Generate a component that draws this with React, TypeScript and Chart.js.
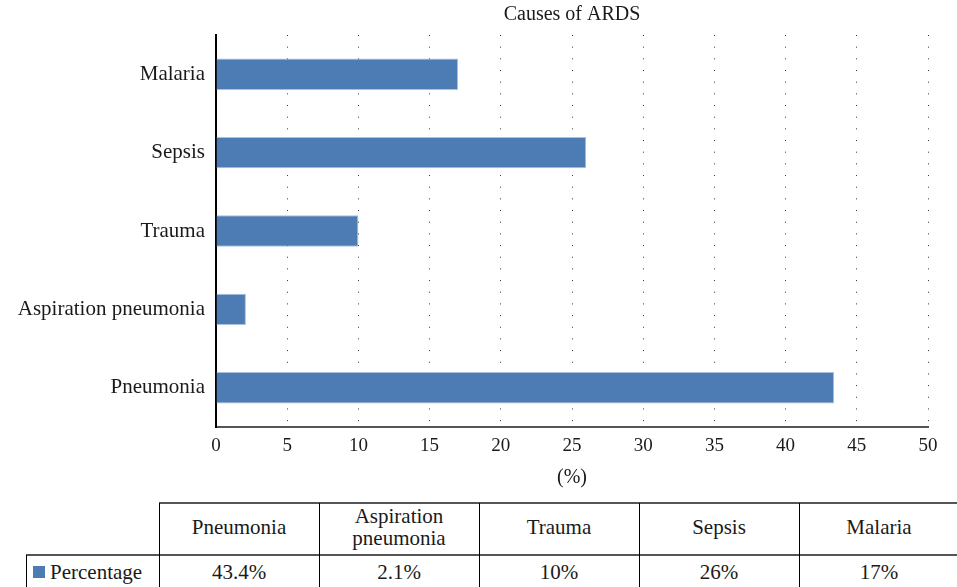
import React, { useEffect, useRef } from "react";
import { Chart, registerables } from "chart.js";

Chart.register(...registerables);

const categories: string[] = ["Pneumonia", "Aspiration pneumonia", "Trauma", "Sepsis", "Malaria"];
const headerLabels: string[][] = [["Pneumonia"], ["Aspiration", "pneumonia"], ["Trauma"], ["Sepsis"], ["Malaria"]];
const percentages: number[] = [43.4, 2.1, 10, 26, 17];
const seriesName = "Percentage";
const chartTitle = "Causes of ARDS";
const axisTitle = "(%)";

const FONT = "'Liberation Serif', 'DejaVu Serif', serif";
const BAR = "#4d7bb4";
const TEXT = "#1a1a1a";

export default function App() {
  const ref = useRef<HTMLCanvasElement | null>(null);

  useEffect(() => {
    if (!ref.current) return;
    const chart = new Chart(ref.current, {
      type: "bar",
      data: {
        labels: categories,
        datasets: [
          {
            label: seriesName,
            data: percentages,
            backgroundColor: BAR,
            borderColor: "#a9c0de",
            borderWidth: 1,
            barPercentage: 0.4,
            categoryPercentage: 1,
          },
        ],
      },
      options: {
        indexAxis: "y",
        animation: false,
        responsive: false,
        maintainAspectRatio: false,
        layout: { padding: { left: 0, right: 29, top: 0, bottom: 0 } },
        plugins: {
          legend: { display: false },
          tooltip: { enabled: false },
          title: {
            display: true,
            text: chartTitle,
            fullSize: false,
            color: TEXT,
            font: { family: FONT, size: 20, weight: "normal" },
            padding: { top: 3, bottom: 8 },
          },
        },
        scales: {
          x: {
            type: "linear",
            min: 0,
            max: 50,
            ticks: {
              stepSize: 5,
              color: TEXT,
              font: { family: FONT, size: 19 },
              padding: 8,
              maxRotation: 0,
            },
            grid: {
              display: true,
              drawTicks: false,
              color: (ctx: any) => (ctx.tick && ctx.tick.value === 0 ? "rgba(0,0,0,0)" : "#333333"),
              lineWidth: 1,
            },
            border: { display: true, color: "#555555", width: 2, dash: [1, 10.67] },
            title: {
              display: true,
              text: axisTitle,
              color: TEXT,
              font: { family: FONT, size: 20 },
              padding: { top: 0, bottom: 5 },
            },
            afterFit: (scale: any) => {
              scale.height = 68;
            },
          },
          y: {
            reverse: true,
            ticks: {
              color: TEXT,
              font: { family: FONT, size: 21 },
              padding: 11,
            },
            grid: { display: false, drawTicks: false },
            border: { display: true, color: "#000000", width: 2 },
            afterFit: (scale: any) => {
              scale.width = 216;
            },
          },
        },
      },
    } as any);
    return () => chart.destroy();
  }, []);

  const colLeft = (i: number) => 159 + i * 160;
  const lineStyle = (l: number, t: number, w: number, h: number, c: string): React.CSSProperties => ({
    position: "absolute",
    left: l,
    top: t,
    width: w,
    height: h,
    background: c,
  });

  const cellText: React.CSSProperties = {
    position: "absolute",
    display: "flex",
    flexDirection: "column",
    alignItems: "center",
    justifyContent: "center",
    textAlign: "center",
    fontFamily: FONT,
    fontSize: 21,
    lineHeight: "22px",
    color: TEXT,
  };

  return (
    <div style={{ position: "fixed", left: 0, top: 0, width: 957, height: 587, overflow: "hidden", background: "#fff" }}>
      <canvas ref={ref} width={957} height={495} style={{ position: "absolute", left: 0, top: 0, width: 957, height: 495 }} />
      <div style={lineStyle(159, 502, 800, 2, "#555")} />
      <div style={lineStyle(26, 554, 931, 2, "#555")} />
      {categories.map((_, i) => (
        <div key={"vh" + i} style={lineStyle(colLeft(i), 503, 1, 90, "#000")} />
      ))}
      <div style={lineStyle(26, 555, 1, 40, "#000")} />
      {headerLabels.map((lines, i) => (
        <div key={"h" + i} style={{ ...cellText, left: colLeft(i), top: 502, width: 160, height: 50 }}>
          {lines.map((ln, j) => (
            <div key={j}>{ln}</div>
          ))}
        </div>
      ))}
      <div style={{ ...cellText, left: 27, top: 556, width: 132, height: 32, flexDirection: "row", justifyContent: "flex-start" }}>
        <span style={{ display: "inline-block", width: 12, height: 12, background: BAR, marginLeft: 6, marginRight: 5 }} />
        <span>{seriesName}</span>
      </div>
      {percentages.map((v, i) => (
        <div key={"d" + i} style={{ ...cellText, left: colLeft(i), top: 556, width: 160, height: 32 }}>
          {v + "%"}
        </div>
      ))}
    </div>
  );
}
